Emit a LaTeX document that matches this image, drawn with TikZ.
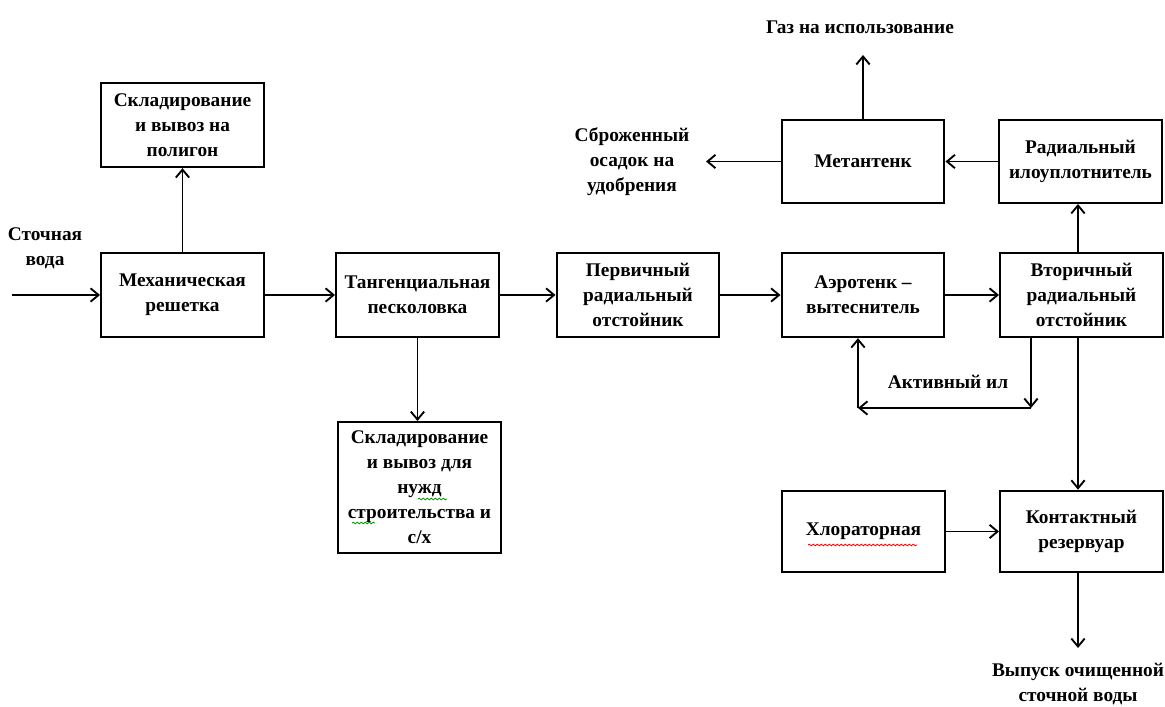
\documentclass[tikz,border=0pt]{standalone}
\usepackage{fontspec}
\setmainfont{Liberation Serif}
\usepackage{tikz}
\usetikzlibrary{arrows.meta, positioning, decorations.pathmorphing}

\begin{document}
\begin{tikzpicture}[x=0.75pt, y=-0.75pt,
        font=\bfseries\fontsize{14.5}{18.75}\selectfont,
        >={Straight Barb[length=6pt, width=10pt]},
        blok/.style={draw, line width=1.7pt, rectangle, align=center, minimum width=122pt, minimum height=63pt, inner sep=2pt},
        lbl/.style={align=center, inner sep=0pt},
        potok/.style={->, line width=1.4pt},
        volna/.style={decorate, decoration={snake, amplitude=0.6pt, segment length=3pt}, line width=0.6pt}]
    \useasboundingbox (0,0) rectangle (1165,707);

    % main line
    \node[blok] (mech) at (182.5,295) {Механическая\\решетка};
    \node[blok] (tang) at (417.5,295) {Тангенциальная\\песколовка};
    \node[blok] (perv) at (638,295) {Первичный\\радиальный\\отстойник};
    \node[blok] (aero) at (863,295) {Аэротенк –\\вытеснитель};
    \node[blok] (vtor) at (1081.5,295) {Вторичный\\радиальный\\отстойник};

    % side boxes
    \node[blok, minimum height=63pt] (sklad1) at (182.5,125) {Складирование\\и вывоз на\\полигон};
    \node[blok, minimum height=98pt] (sklad2) at (419.5,487.5) {Складирование\\и вывоз для\\нужд\\строительства и\\с/х};
    \node[blok, minimum height=62pt] (metan) at (863,161.5) {Метантенк};
    \node[blok, minimum height=62pt] (radial) at (1080.5,161.5) {Радиальный\\илоуплотнитель};
    \node[blok, minimum height=61pt] (chlor) at (863.5,531.5) {Хлораторная};
    \node[blok, minimum height=61pt] (kontakt) at (1081.5,531.5) {Контактный\\резервуар};

    % free texts
    \node[lbl] (vhod) at (45,248) {Сточная\\вода};
    \node[lbl] (gaz) at (860,27) {Газ на использование};
    \node[lbl] (osadok) at (632,162) {Сброженный\\осадок на\\удобрения};
    \node[lbl] (il) at (948,382) {Активный ил};
    \node[lbl] (vypusk) at (1078,684) {Выпуск очищенной\\сточной воды};

    \coordinate (inp) at (12,295);
    \coordinate (gazTip) at (863,55);
    \coordinate (osTip) at (706,161.5);
    \coordinate (vypTip) at (1078,648);
    \coordinate (ilR) at (1031,408);
    \coordinate (ilL) at (858,408);

    % connectors
    \draw[potok] (inp) -- (mech.west);
    \foreach \a/\b in {mech/tang, tang/perv, perv/aero, aero/vtor} {
        \draw[potok] (\a.east) -- (\b.west);
    }
    \draw[potok] (mech.north) -- (sklad1.south);
    \draw[potok] (tang.south) -- (tang.south |- sklad2.north);
    \draw[potok] (vtor.north -| vypTip) -- (radial.south -| vypTip);
    \draw[potok] (radial.west) -- (metan.east);
    \draw[potok] (metan.north) -- (gazTip);
    \draw[potok] (metan.west) -- (osTip);
    \draw[potok] (vtor.south -| vypTip) -- (kontakt.north -| vypTip);
    \draw[potok] (chlor.east) -- (kontakt.west);
    \draw[potok] (kontakt.south -| vypTip) -- (vypTip);

    % activated sludge return
    \draw[potok] (vtor.south -| ilR) -- (ilR);
    \draw[potok] (ilR) -- (ilL);
    \draw[potok] (ilL) -- (aero.south -| ilL);

    % spell-check marks
    \draw[volna, red] (808,545) -- (917,545);
    \draw[volna, green!60!black] (418,499) -- (447,499);
    \draw[volna, green!60!black] (352,523) -- (375,523);
\end{tikzpicture}
\end{document}
